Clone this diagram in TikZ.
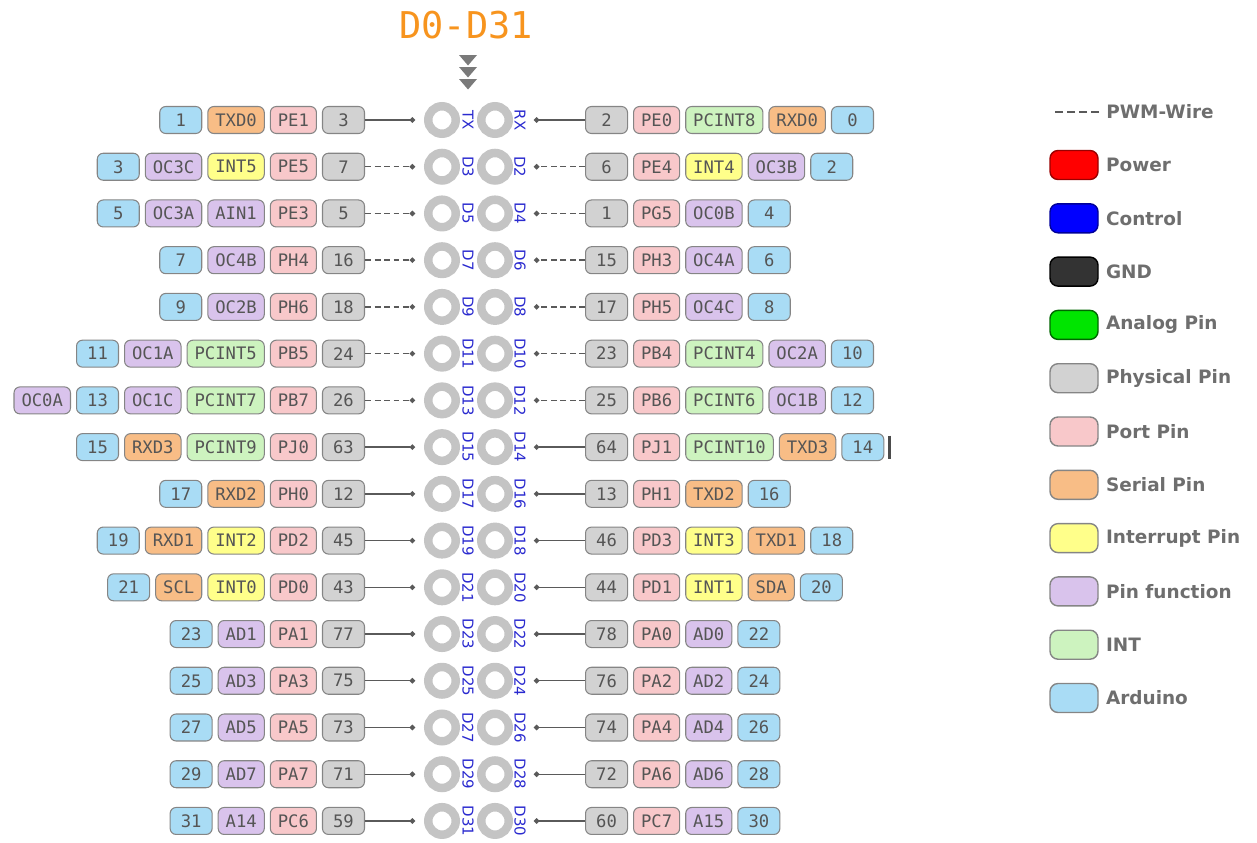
\documentclass[tikz,border=0pt]{standalone}
\usepackage{fontspec}
\setmainfont{DejaVu Sans}
\newfontfamily\pinfont{DejaVu Sans Mono}
\usepackage{xcolor}
\usetikzlibrary{positioning,arrows.meta}

\definecolor{physfill}{HTML}{D2D2D2}
\definecolor{portfill}{HTML}{F8C8CA}
\definecolor{serfill}{HTML}{F8BD86}
\definecolor{irqfill}{HTML}{FFFF8A}
\definecolor{funcfill}{HTML}{D9C3EC}
\definecolor{pcintfill}{HTML}{CDF3BF}
\definecolor{ardfill}{HTML}{A9DCF5}
\definecolor{pinline}{HTML}{858585}
\definecolor{pintext}{HTML}{555555}
\definecolor{padgray}{HTML}{C4C4C4}
\definecolor{padblue}{HTML}{2A2ACF}
\definecolor{wiregray}{HTML}{5A5A5A}
\definecolor{titleorange}{HTML}{F7941E}
\definecolor{arrowgray}{HTML}{7A7A7A}
\definecolor{leggray}{HTML}{6E6E6E}

\tikzset{
  pin/.style={draw=pinline, rounded corners=0.12cm, line width=0.6pt,
    minimum width=0.84cm, minimum height=0.54cm, inner xsep=0.15cm, inner ysep=0pt,
    text=pintext, font=\pinfont\fontsize{9.8}{10}\selectfont},
  phys/.style={fill=physfill},
  port/.style={fill=portfill},
  ser/.style={fill=serfill},
  irq/.style={fill=irqfill},
  func/.style={fill=funcfill},
  pcint/.style={fill=pcintfill},
  ard/.style={fill=ardfill},
  power/.style={fill=red, draw=red!60!black},
  control/.style={fill=blue, draw=blue!60!black},
  gnd/.style={fill=black!80, draw=black},
  analog/.style={fill=green!90!black, draw=green!40!black},
  pad/.style={circle, draw=padgray, line width=0.17cm, fill=white,
    minimum size=0.55cm, inner sep=0pt},
  padlab/.style={rotate=-90, text=padblue, inner sep=0pt,
    font=\fontsize{8.5}{10}\selectfont},
  wire/.style={draw=wiregray, line width=0.8pt, -{Circle[length=3pt]}},
  pwm/.style={dash pattern=on 0.12cm off 0.07cm},
  legbox/.style={draw=pinline, rounded corners=0.16cm, line width=0.8pt,
    minimum width=0.96cm, minimum height=0.58cm, inner sep=0pt},
  leglab/.style={text=leggray, inner sep=0pt,
    font=\bfseries\fontsize{10.5}{12}\selectfont}
}

\begin{document}
\begin{tikzpicture}[x=0.02cm, y=-0.02cm, node distance=0.1cm]
    \useasboundingbox (0,0) rectangle (1257,842);

    % Header
    \node [text=titleorange, inner sep=0pt, font=\pinfont\fontsize{21}{24}\selectfont] (ttl) at (466,25) {D0-D31};
    \foreach \ty in {55,67,79}
        \fill [arrowgray] (459,\ty) -- (477,\ty) -- (468,\ty+10.5) -- cycle;

    % Header pins, wires and pin functions
    \foreach \row/\lab/\rlab/\w/\lt/\rt in {
        1/TX/RX/solid/{phys/3,port/PE1,ser/TXD0,ard/1}/{phys/2,port/PE0,pcint/PCINT8,ser/RXD0,ard/0},
        2/D3/D2/pwm/{phys/7,port/PE5,irq/INT5,func/OC3C,ard/3}/{phys/6,port/PE4,irq/INT4,func/OC3B,ard/2},
        3/D5/D4/pwm/{phys/5,port/PE3,func/AIN1,func/OC3A,ard/5}/{phys/1,port/PG5,func/OC0B,ard/4},
        4/D7/D6/pwm/{phys/16,port/PH4,func/OC4B,ard/7}/{phys/15,port/PH3,func/OC4A,ard/6},
        5/D9/D8/pwm/{phys/18,port/PH6,func/OC2B,ard/9}/{phys/17,port/PH5,func/OC4C,ard/8},
        6/D11/D10/pwm/{phys/24,port/PB5,pcint/PCINT5,func/OC1A,ard/11}/{phys/23,port/PB4,pcint/PCINT4,func/OC2A,ard/10},
        7/D13/D12/pwm/{phys/26,port/PB7,pcint/PCINT7,func/OC1C,ard/13,func/OC0A}/{phys/25,port/PB6,pcint/PCINT6,func/OC1B,ard/12},
        8/D15/D14/solid/{phys/63,port/PJ0,pcint/PCINT9,ser/RXD3,ard/15}/{phys/64,port/PJ1,pcint/PCINT10,ser/TXD3,ard/14},
        9/D17/D16/solid/{phys/12,port/PH0,ser/RXD2,ard/17}/{phys/13,port/PH1,ser/TXD2,ard/16},
        10/D19/D18/solid/{phys/45,port/PD2,irq/INT2,ser/RXD1,ard/19}/{phys/46,port/PD3,irq/INT3,ser/TXD1,ard/18},
        11/D21/D20/solid/{phys/43,port/PD0,irq/INT0,ser/SCL,ard/21}/{phys/44,port/PD1,irq/INT1,ser/SDA,ard/20},
        12/D23/D22/solid/{phys/77,port/PA1,func/AD1,ard/23}/{phys/78,port/PA0,func/AD0,ard/22},
        13/D25/D24/solid/{phys/75,port/PA3,func/AD3,ard/25}/{phys/76,port/PA2,func/AD2,ard/24},
        14/D27/D26/solid/{phys/73,port/PA5,func/AD5,ard/27}/{phys/74,port/PA4,func/AD4,ard/26},
        15/D29/D28/solid/{phys/71,port/PA7,func/AD7,ard/29}/{phys/72,port/PA6,func/AD6,ard/28},
        16/D31/D30/solid/{phys/59,port/PC6,func/A14,ard/31}/{phys/60,port/PC7,func/A15,ard/30}} {
        \pgfmathsetmacro\y{120+(\row-1)*46.73}
        % pads
        \node [pad] (PL\row) at (442,\y) {};
        \node [pad] (PR\row) at (495,\y) {};
        \node [padlab] (LB\row) at (468,\y) {\lab};
        \node [padlab] (RB\row) at (520,\y) {\rlab};
        % left chain
        \foreach \kind/\txt [count=\k] in \lt {
            \ifnum\k=1
                \node [pin, \kind, anchor=east] (L\row-\k) at (365,\y) {\txt};
            \else
                \pgfmathtruncatemacro\prev{\k-1}
                \node [pin, \kind, left=of L\row-\prev] (L\row-\k) {\txt};
            \fi
        }
        % right chain
        \foreach \kind/\txt [count=\k] in \rt {
            \ifnum\k=1
                \node [pin, \kind, anchor=west] (R\row-\k) at (585,\y) {\txt};
            \else
                \pgfmathtruncatemacro\prev{\k-1}
                \node [pin, \kind, right=of R\row-\prev] (R\row-\k) {\txt};
            \fi
        }
        \draw [wire, \w] (L\row-1.east) -- ([xshift=-0.18cm]PL\row.west);
        \draw [wire, \w] (R\row-1.west) -- ([xshift=0.42cm]PR\row.east);
    }
    \draw [line width=0.06cm, black!70] ([xshift=0.1cm, yshift=-0.05cm]R8-5.north east) -- ([xshift=0.1cm, yshift=0.05cm]R8-5.south east);

    % Legend
    \node [leglab, anchor=west] (lpwm) at (1106,112) {PWM-Wire};
    \draw [draw=wiregray, line width=0.8pt, dash pattern=on 0.16cm off 0.08cm] ([xshift=-0.14cm]lpwm.west) -- ++(-0.96cm,0);
    \foreach \i/\c/\txt in {0/power/Power, 1/control/Control, 2/gnd/GND, 3/analog/Analog Pin,
        4/phys/Physical Pin, 5/port/Port Pin, 6/ser/Serial Pin, 7/irq/Interrupt Pin,
        8/func/Pin function, 9/pcint/INT, 10/ard/Arduino} {
        \pgfmathsetmacro\y{165+\i*53.3}
        \node [legbox, \c] (K\i) at (1074,\y) {};
        \node [leglab, right=0.14cm of K\i] (T\i) {\txt};
    }
\end{tikzpicture}
\end{document}
